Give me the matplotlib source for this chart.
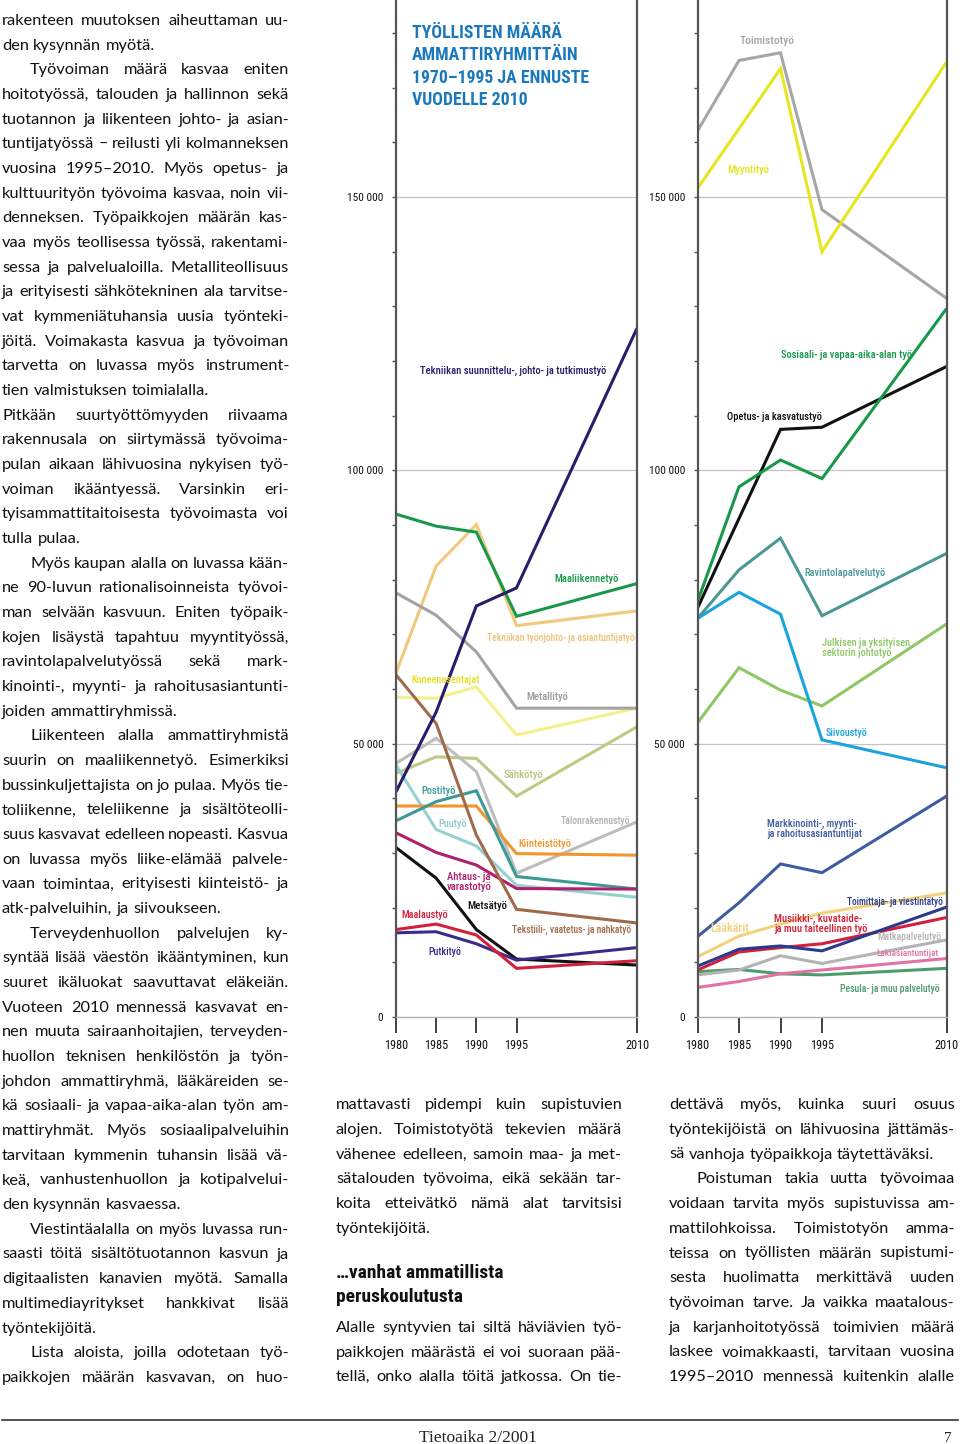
import matplotlib
matplotlib.use("Agg")
import matplotlib.pyplot as plt
from matplotlib import font_manager as fm
from matplotlib.ticker import MultipleLocator

W, H = 960, 1444
ZERO_Y = 1017          # pixel row of value 0
PX_PER_UNIT = 273.3 / 50000
YTOP = ZERO_Y / PX_PER_UNIT

# ---------------- data ----------------
years = [1980, 1985, 1990, 1995, 2010]

# left chart
maaliikenne = [92000, 89800, 88700, 73300, 79300]
tekn_tyonjohto = [62900, 82500, 90100, 71600, 74300]
tekn_suunnittelu = [41200, 55800, 75200, 78500, 126000]
metalli = [77600, 73500, 66800, 56500, 56500]
koneenasentajat = [58500, 58300, 60400, 51600, 56500]
tekstiili = [62600, 53700, 33300, 19700, 17200]
sahko = [44600, 47600, 47300, 40400, 53100]
talonrakennus = [46400, 51000, 44900, 26300, 35700]
posti = [35900, 39400, 41400, 25700, 23400]
kiinteisto = [38600, 38600, 38600, 29900, 29600]
puu = [46100, 34300, 31300, 24100, 21900]
ahtaus = [33700, 30100, 27800, 23500, 23400]
metsa = [31000, 25400, 16000, 10600, 9500]
maalaus = [16000, 17000, 15000, 8900, 10300]
putki = [15400, 15600, 13400, 10400, 12700]

# right chart
toimisto = [162100, 175000, 176400, 147700, 131500]
myynti = [151600, 162500, 173500, 140000, 174700]
sosiaali = [76000, 97000, 101900, 98500, 129600]
opetus = [74800, 91200, 107500, 107900, 119000]
ravintola = [72900, 81800, 87600, 73400, 84800]
siivous = [72900, 77700, 73700, 50700, 45600]
julkisen = [53800, 63900, 59800, 56900, 71900]
markkinointi = [14700, 20900, 28000, 26400, 40400]
laakarit = [11000, 14800, 17000, 19000, 22700]
toimittaja = [9300, 12400, 13000, 12100, 20100]
musiikki = [8600, 11900, 12700, 13400, 18200]
matka = [7700, 8600, 11200, 9800, 14100]
laki = [5400, 6500, 7900, 8600, 10700]
pesula = [8300, 8700, 7900, 7700, 8900]

ytick_vals = [0, 50000, 100000, 150000]
ytick_labels = ["0", "50 000", "100 000", "150 000"]

left_series = [
    (tekn_tyonjohto, "#f2c87c"), (koneenasentajat, "#f4f08c"), (metalli, "#a3a3a3"),
    (sahko, "#bccb84"), (talonrakennus, "#bdbdbd"), (puu, "#94d2d0"),
    (kiinteisto, "#f0962c"), (posti, "#3c9a96"), (ahtaus, "#b0206c"),
    (tekstiili, "#a06a4c"), (metsa, "#111111"), (putki, "#3b2c8c"),
    (maalaus, "#d41f3a"), (maaliikenne, "#18994a"), (tekn_suunnittelu, "#2b1b6b"),
]
right_series = [
    (toimisto, "#a6a6a6"), (myynti, "#e6e61e"), (julkisen, "#8dc865"),
    (ravintola, "#4a9896"), (siivous, "#1aa3e0"), (opetus, "#111111"),
    (sosiaali, "#17994a"), (pesula, "#4d9c6c"), (laki, "#e272a4"),
    (matka, "#b3b3b3"), (laakarit, "#f2d27a"), (musiikki, "#d3203a"),
    (toimittaja, "#2a3a8c"), (markkinointi, "#3d5ca2"),
]

# label layout: (left px, right px, centre y px, text, colour)
left_labels = [
    (420, 592, 371, "Tekniikan suunnittelu-, johto- ja tutkimustyö", "#2b1b6b"),
    (554, 614, 579, "Maaliikennetyö", "#18994a"),
    (487, 637, 638, "Tekniikan työnjohto- ja asiantuntijatyö", "#eec27a"),
    (411, 475, 680, "Koneenasentajat", "#e6e21e"),
    (526, 565, 697, "Metallityö", "#9a9a9a"),
    (504, 541, 775, "Sähkötyö", "#b5c47c"),
    (421, 453, 791, "Postityö", "#3c9a96"),
    (561, 631, 821, "Talonrakennustyö", "#b0b0b0"),
    (438, 465, 824, "Puutyö", "#8ccccc"),
    (518, 567, 844, "Kiinteistötyö", "#f0962c"),
    (447, 489, 882, "Ahtaus- ja\nvarastotyö", "#b0206c"),
    (467, 504, 906, "Metsätyö", "#111111"),
    (401, 445, 915, "Maalaustyö", "#d41f3a"),
    (512, 634, 930, "Tekstiili-, vaatetus- ja nahkatyö", "#a06a4c"),
    (428, 459, 952, "Putkityö", "#3b2c8c"),
]
right_labels = [
    (740, 791, 41, "Toimistotyö", "#a6a6a6"),
    (727, 766, 170, "Myyntityö", "#e6e61e"),
    (781, 904, 355, "Sosiaali- ja vapaa-aika-alan työ", "#17994a"),
    (727, 815, 417, "Opetus- ja kasvatustyö", "#111111"),
    (804, 880, 573, "Ravintolapalvelutyö", "#4a9896"),
    (822, 904, 648, "Julkisen ja yksityisen\nsektorin johtotyö", "#8dc865"),
    (826, 865, 733, "Siivoustyö", "#1aa3e0"),
    (767, 855, 829, "Markkinointi-, myynti-\nja rahoitusasiantuntijat", "#3d5ca2"),
    (847, 945, 902, "Toimittaja- ja viestintätyö", "#2a3a8c"),
    (710, 746, 929, "Lääkärit", "#f2d27a"),
    (774, 861, 924, "Musiikki-, kuvataide-\nja muu taiteellinen työ", "#d3203a"),
    (877, 942, 937, "Matkapalvelutyö", "#b3b3b3"),
    (876, 939, 953, "Lakiasiantuntijat", "#e272a4"),
    (840, 941, 989, "Pesula- ja muu palvelutyö", "#4d9c6c"),
]

title_lines = ["TYÖLLISTEN MÄÄRÄ", "AMMATTIRYHMITTÄIN", "1970–1995 JA ENNUSTE", "VUODELLE 2010"]

# body text: (indent, lines, ends_paragraph)
left_col = [
    (False, ["rakenteen muutoksen aiheuttaman uu-", "den kysynnän myötä."], True),
    (True, ["Työvoiman määrä kasvaa eniten",
            "hoitotyössä, talouden ja hallinnon sekä",
            "tuotannon ja liikenteen johto- ja asian-",
            "tuntijatyössä – reilusti yli kolmanneksen",
            "vuosina 1995–2010. Myös opetus- ja",
            "kulttuurityön työvoima kasvaa, noin vii-",
            "denneksen. Työpaikkojen määrän kas-",
            "vaa myös teollisessa työssä, rakentami-",
            "sessa ja palvelualoilla. Metalliteollisuus",
            "ja erityisesti sähkötekninen ala tarvitse-",
            "vat kymmeniätuhansia uusia työnteki-",
            "jöitä. Voimakasta kasvua ja työvoiman",
            "tarvetta on luvassa myös instrument-",
            "tien valmistuksen toimialalla."], True),
    (False, ["Pitkään suurtyöttömyyden riivaama",
             "rakennusala on siirtymässä työvoima-",
             "pulan aikaan lähivuosina nykyisen työ-",
             "voiman ikääntyessä. Varsinkin eri-",
             "tyisammattitaitoisesta työvoimasta voi",
             "tulla pulaa."], True),
    (True, ["Myös kaupan alalla on luvassa kään-",
            "ne 90-luvun rationalisoinneista työvoi-",
            "man selvään kasvuun. Eniten työpaik-",
            "kojen lisäystä tapahtuu myyntityössä,",
            "ravintolapalvelutyössä sekä mark-",
            "kinointi-, myynti- ja rahoitusasiantunti-",
            "joiden ammattiryhmissä."], True),
    (True, ["Liikenteen alalla ammattiryhmistä",
            "suurin on maaliikennetyö. Esimerkiksi",
            "bussinkuljettajista on jo pulaa. Myös tie-",
            "toliikenne, teleliikenne ja sisältöteolli-",
            "suus kasvavat edelleen nopeasti. Kasvua",
            "on luvassa myös liike-elämää palvele-",
            "vaan toimintaa, erityisesti kiinteistö- ja",
            "atk-palveluihin, ja siivoukseen."], True),
    (True, ["Terveydenhuollon palvelujen ky-",
            "syntää lisää väestön ikääntyminen, kun",
            "suuret ikäluokat saavuttavat eläkeiän.",
            "Vuoteen 2010 mennessä kasvavat en-",
            "nen muuta sairaanhoitajien, terveyden-",
            "huollon teknisen henkilöstön ja työn-",
            "johdon ammattiryhmä, lääkäreiden se-",
            "kä sosiaali- ja vapaa-aika-alan työn am-",
            "mattiryhmät. Myös sosiaalipalveluihin",
            "tarvitaan kymmenin tuhansin lisää vä-",
            "keä, vanhustenhuollon ja kotipalvelui-",
            "den kysynnän kasvaessa."], True),
    (True, ["Viestintäalalla on myös luvassa run-",
            "saasti töitä sisältötuotannon kasvun ja",
            "digitaalisten kanavien myötä. Samalla",
            "multimediayritykset hankkivat lisää",
            "työntekijöitä."], True),
    (True, ["Lista aloista, joilla odotetaan työ-",
            "paikkojen määrän kasvavan, on huo-"], False),
]
mid_col_a = [
    (False, ["mattavasti pidempi kuin supistuvien",
             "alojen. Toimistotyötä tekevien määrä",
             "vähenee edelleen, samoin maa- ja met-",
             "sätalouden työvoima, eikä sekään tar-",
             "koita etteivätkö nämä alat tarvitsisi",
             "työntekijöitä."], True),
]
mid_heading = ["…vanhat ammatillista", "peruskoulutusta"]
mid_col_b = [
    (False, ["Alalle syntyvien tai siltä häviävien työ-",
             "paikkojen määrästä ei voi suoraan pää-",
             "tellä, onko alalla töitä jatkossa. On tie-"], False),
]
right_col = [
    (False, ["dettävä myös, kuinka suuri osuus",
             "työntekijöistä on lähivuosina jättämäs-",
             "sä vanhoja työpaikkoja täytettäväksi."], True),
    (True, ["Poistuman takia uutta työvoimaa",
            "voidaan tarvita myös supistuvissa am-",
            "mattilohkoissa. Toimistotyön amma-",
            "teissa on työllisten määrän supistumi-",
            "sesta huolimatta merkittävä uuden",
            "työvoiman tarve. Ja vaikka maatalous-",
            "ja karjanhoitotyössä toimivien määrä",
            "laskee voimakkaasti, tarvitaan vuosina",
            "1995–2010 mennessä kuitenkin alalle"], False),
]

# ---------------- fonts ----------------
entries = fm.fontManager.ttflist
names = {f.name for f in entries}
COND = dict(family="DejaVu Sans")
cond_found = False
for cand in ["Roboto Condensed", "Liberation Sans Narrow", "Open Sans Condensed",
             "Noto Sans Condensed", "DejaVu Sans Condensed"]:
    if cand in names:
        COND = dict(family=cand)
        cond_found = True
        break
if not cond_found:
    for fam in ["Roboto", "Noto Sans", "Open Sans", "DejaVu Sans", "Liberation Sans"]:
        if any(f.name == fam and f.stretch in ("condensed", "semi-condensed") for f in entries):
            COND = dict(family=fam, fontstretch="condensed")
            cond_found = True
            break
LBL = 9.5
BODY = "Lato" if "Lato" in names else "DejaVu Sans"

fig = plt.figure(figsize=(W / 100, H / 100), dpi=100)
renderer = fig.canvas.get_renderer()


def fx(x):
    return x / W


def fy(y):
    return 1 - y / H


def fitted_text(x0, x1, y, txt, col, size, edge):
    t = fig.text(fx(x0), fy(y), txt, color=col, fontsize=size, ha="left", va="center",
                 linespacing=1.0, fontweight="medium", **COND)
    w = t.get_window_extent(renderer).width
    slack = 1.0 if x1 > edge - 14 else 1.08
    t.set_fontsize(min(size, slack * size * (x1 - x0) / w))
    return t


def make_chart(x_left, x_right, series, labels):
    ax = fig.add_axes([fx(x_left), fy(ZERO_Y), (x_right - x_left) / W, ZERO_Y / H])
    ax.set_xlim(1980, 2010)
    ax.set_ylim(0, YTOP)
    for v in ytick_vals[1:]:
        ax.axhline(v, color="#c4c4c4", lw=0.9, zorder=0)
    for vals, color in series:
        ax.plot(years, vals, color=color, lw=2.2, solid_joinstyle="miter",
                solid_capstyle="butt", zorder=2)
    ax.spines["top"].set_visible(False)
    for s in ("left", "right"):
        ax.spines[s].set_color("#555555")
        ax.spines[s].set_linewidth(1.6)
    ax.spines["bottom"].set_color("#b0b0b0")
    ax.spines["bottom"].set_linewidth(1.0)
    ax.set_xticks(years)
    ax.set_xticklabels([str(y) for y in years], fontsize=8.8, color="#111111", **COND)
    ax.tick_params(axis="x", length=11.5, width=1.3, color="#333333", pad=4)
    ax.set_yticks(ytick_vals)
    ax.set_yticklabels(ytick_labels, fontsize=8.2, color="#111111", **COND)
    ax.yaxis.set_minor_locator(MultipleLocator(10000))
    ax.tick_params(axis="y", which="both", length=3, width=1, color="#555555", pad=6)
    ax.patch.set_alpha(0)
    for x0, x1, y, txt, col in labels:
        fitted_text(x0, x1, y, txt, col, LBL, x_right)
    return ax


make_chart(396, 637, left_series, left_labels)
make_chart(697.5, 946.5, right_series, right_labels)

for i, line in enumerate(title_lines):
    fig.text(fx(412), fy(33 + i * 22.4), line, color="#1b78bd", fontsize=12.8,
             fontweight="bold", ha="left", va="center", **COND)

# ---------------- body text ----------------


def text_w(s, size, **kw):
    t = fig.text(0, 0, s, fontsize=size, family=BODY, **kw)
    w = t.get_window_extent(renderer).width
    t.remove()
    return w


def layout(paras, x0):
    out = []
    for indent, lines, ends in paras:
        for i, line in enumerate(lines):
            left = x0 + (28 if indent and i == 0 else 0)
            just = not (ends and i == len(lines) - 1)
            out.append((line, left, just))
    return out


def fit_size(all_lines, x1, size):
    sp = text_w("a a", size) - text_w("aa", size)
    worst = 0
    for line, left, just in all_lines:
        words = line.split(" ")
        nat = sum(text_w(w, size) for w in words) + 0.45 * sp * (len(words) - 1)
        worst = max(worst, nat / (x1 - left))
    return size if worst <= 1 else size / worst


def draw_lines(all_lines, x1, baselines, size):
    sp = text_w("a a", size) - text_w("aa", size)
    for (line, left, just), base in zip(all_lines, baselines):
        words = line.split(" ")
        ws = [text_w(w, size) for w in words]
        gap = (x1 - left - sum(ws)) / (len(words) - 1) if just and len(words) > 1 else sp
        x = left
        for w, wd in zip(words, ws):
            fig.text(fx(x), fy(base), w, fontsize=size, family=BODY, color="#111111",
                     ha="left", va="baseline")
            x += wd + gap


L_lines = layout(left_col, 2)
M_lines_a = layout(mid_col_a, 336)
M_lines_b = layout(mid_col_b, 336)
R_lines = layout(right_col, 669)

size = 11.8
size = min(size, fit_size(L_lines, 289, size))
size = min(size, fit_size(M_lines_a + M_lines_b, 622, size))
size = min(size, fit_size(R_lines, 955, size))

draw_lines(L_lines, 289, [25 + i * 24.67 for i in range(len(L_lines))], size)
draw_lines(M_lines_a, 622, [1109 + i * 24.8 for i in range(len(M_lines_a))], size)
draw_lines(M_lines_b, 622, [1332 + i * 24.6 for i in range(len(M_lines_b))], size)
draw_lines(R_lines, 955, [1109 + i * 24.75 for i in range(len(R_lines))], size)

for i, line in enumerate(mid_heading):
    fig.text(fx(336), fy(1278 + i * 24), line, fontsize=14, fontweight="bold",
             color="#111111", ha="left", va="baseline", **COND)

# footer
fig.add_artist(plt.Line2D([fx(2), fx(958)], [fy(1420), fy(1420)], color="#333333", lw=1.2))
fig.text(fx(478), fy(1438), "Tietoaika 2/2001", fontsize=12.5, family="Liberation Serif",
         color="#222222", ha="center", va="center")
fig.text(fx(948), fy(1438), "7", fontsize=11, family="Liberation Serif",
         color="#222222", ha="center", va="center")

fig.savefig("out.png", dpi=100)
